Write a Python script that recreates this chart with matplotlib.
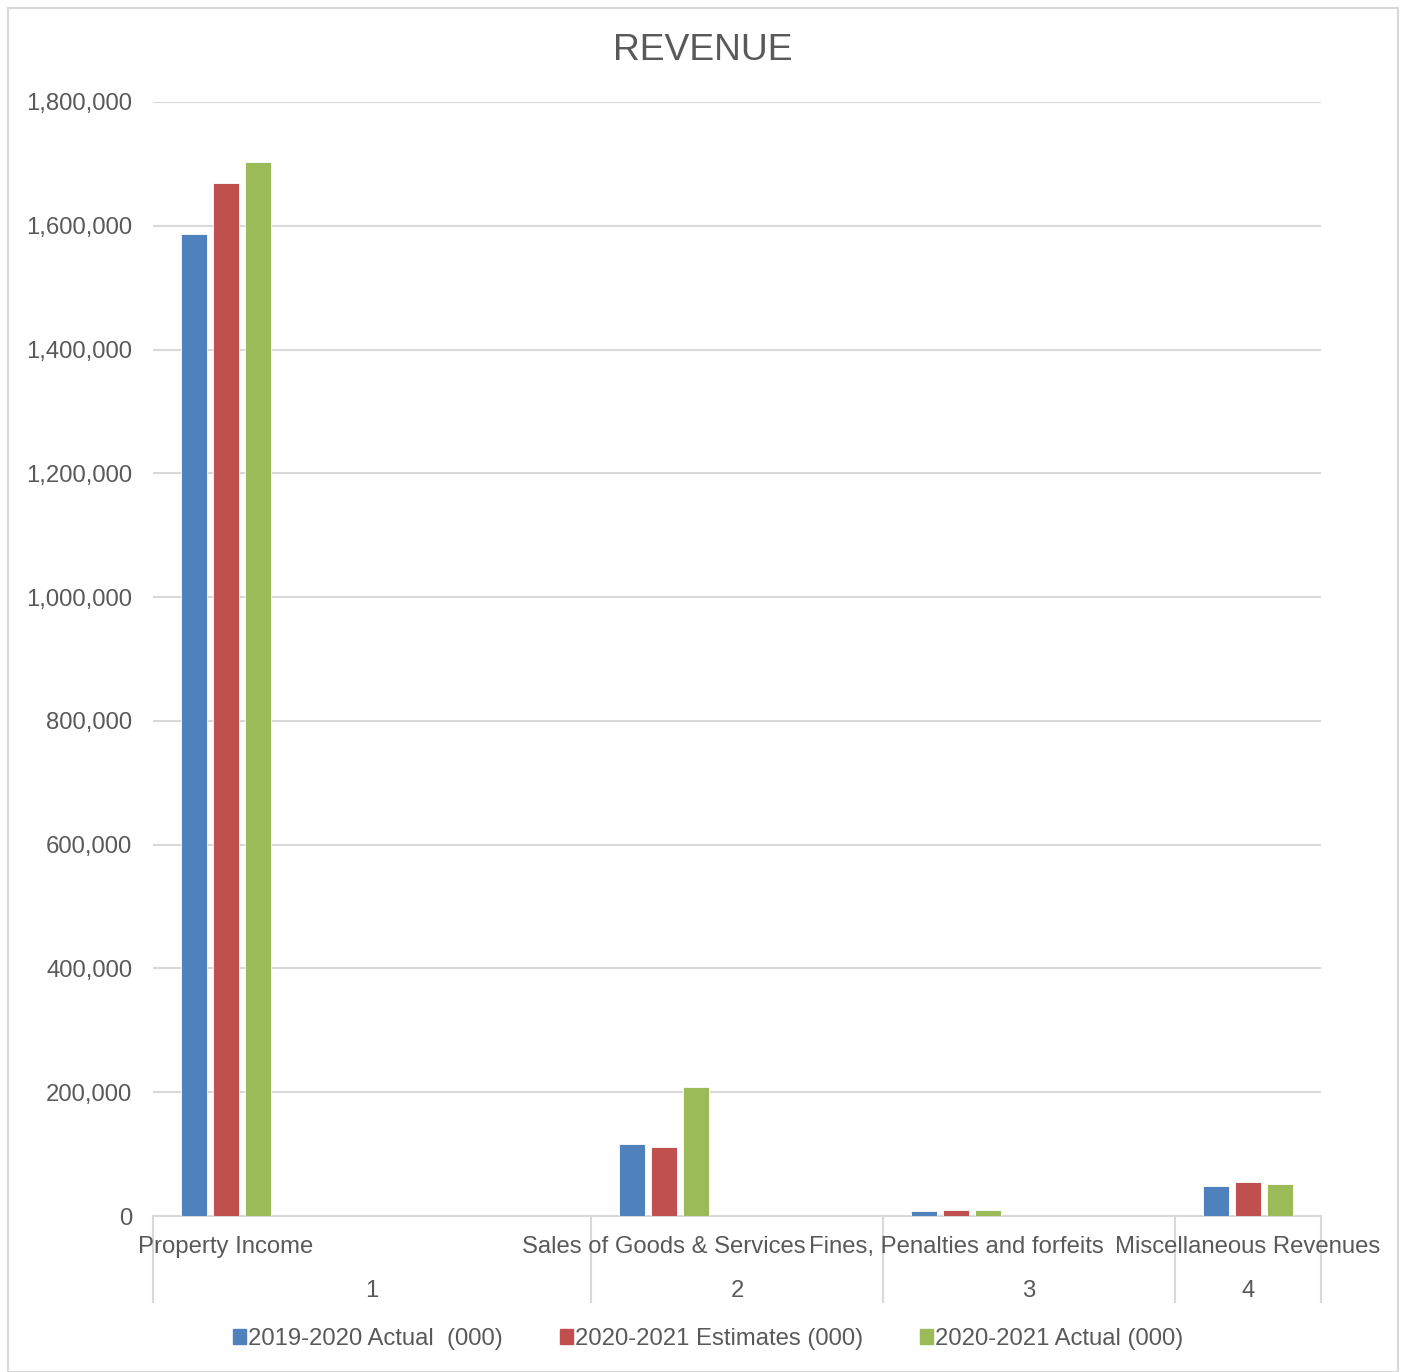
import numpy as np
import matplotlib.pyplot as plt
from matplotlib.patches import Rectangle, Patch
from matplotlib.ticker import FuncFormatter

plt.rcParams['font.family'] = ['Liberation Sans', 'DejaVu Sans']

# données
categories = ["Property Income", "Sales of Goods & Services",
              "Fines, Penalties and forfeits", "Miscellaneous Revenues"]
groups = ["1", "2", "3", "4"]
slots_per_group = [3, 2, 2, 1]      # nombre de positions de catégorie dans chaque groupe
series = ["2019-2020 Actual  (000)", "2020-2021 Estimates (000)", "2020-2021 Actual (000)"]
actual_1920 = [1586000, 116500, 7800, 49000]
estimates_2021 = [1668500, 112000, 10500, 55500]
actual_2021 = [1703500, 208500, 10500, 51500]
values = [actual_1920, estimates_2021, actual_2021]
colors = ["#4f81bd", "#c0504d", "#9bbb59"]

grid_col = "#d9d9d9"
text_col = "#595959"
fs = 17.2

fig = plt.figure(figsize=(14.05, 13.72), dpi=100)
ax = fig.add_axes([0.1089, 0.1137, 0.8313, 0.812])

# position de chaque catégorie = premier emplacement de son groupe
starts = np.concatenate([[0], np.cumsum(slots_per_group)[:-1]])
centres = starts + 0.5
n_slots = sum(slots_per_group)

w = 0.178
pas = 0.219
for k, (vals, col, lab) in enumerate(zip(values, colors, series)):
    ax.bar(centres + (k - 1) * pas, vals, width=w, color=col,
           edgecolor="white", linewidth=0.6, label=lab, zorder=3)

ax.set_xlim(0, n_slots)
ax.set_ylim(0, 1800000)
ax.set_yticks(np.arange(0, 1800001, 200000))
ax.yaxis.set_major_formatter(FuncFormatter(lambda v, p: f"{int(v):,}"))
ax.tick_params(axis="y", length=0, labelsize=fs, labelcolor=text_col, pad=15)
ax.grid(axis="y", color=grid_col, lw=1.5, zorder=0)
ax.set_xticks([])
for s in ["top", "right", "left"]:
    ax.spines[s].set_visible(False)
ax.spines["bottom"].set_color(grid_col)
ax.spines["bottom"].set_linewidth(1.5)

# axe des catégories à deux niveaux
bords = np.concatenate([[0], np.cumsum(slots_per_group)])
for b in bords:
    ax.plot([b, b], [0, -0.077], transform=ax.get_xaxis_transform(),
            color=grid_col, lw=1.5, clip_on=False)
for c, lab in zip(centres, categories):
    ax.text(c, -0.0278, lab, transform=ax.get_xaxis_transform(),
            ha="center", va="center", fontsize=fs, color=text_col)
for i, g in enumerate(groups):
    ax.text((bords[i] + bords[i + 1]) / 2, -0.0674, g, transform=ax.get_xaxis_transform(),
            ha="center", va="center", fontsize=fs, color=text_col)

fig.text(0.5, 0.9635, "REVENUE", ha="center", va="center", fontsize=26.8, color=text_col)

handles = [Patch(color=c, label=l) for c, l in zip(colors, series)]
fig.legend(handles=handles, loc="center", bbox_to_anchor=(0.504, 0.024), ncol=3,
           frameon=False, fontsize=fs, labelcolor=text_col, handlelength=0.55,
           handleheight=0.55, handletextpad=0.1, columnspacing=2.37)

fig.patches.append(Rectangle((8 / 1405, 0.0), 1390 / 1405, 1 - 8 / 1372,
                             transform=fig.transFigure, fill=False,
                             edgecolor=grid_col, lw=1.5))

plt.savefig("out.png", dpi=100)
